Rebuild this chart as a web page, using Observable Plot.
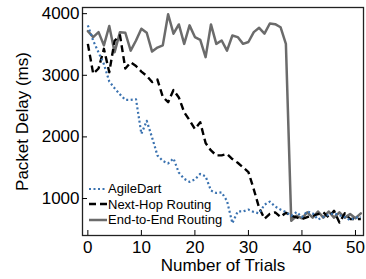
<!DOCTYPE html>
<html><head><meta charset="utf-8">
<script src="https://cdn.jsdelivr.net/npm/d3@7"></script>
<script src="https://cdn.jsdelivr.net/npm/@observablehq/plot@0.6"></script>
<style>
body{margin:0;background:#fff;font-family:"Liberation Sans",Arial,sans-serif;}
#wrap{position:relative;width:366px;height:279px;}
#legend{position:absolute;left:89px;top:181px;font-size:13px;color:#000;}
.row{display:flex;align-items:center;height:15.5px;white-space:nowrap;}
.row svg{margin-right:1px;display:block}
</style></head><body><div id="wrap"><div id="legend"></div></div>
<script>
const trials = d3.range(52);
const agileDart = [3810,3560,3370,3180,2900,2790,2690,2600,2600,2610,
  2050,2260,1990,1700,1610,1570,1650,1420,1320,1270,
  1310,1400,1360,1130,1090,1100,960,600,790,790,
  820,780,760,900,950,870,820,780,720,780,
  700,790,760,660,700,740,760,730,700,650,690,700];
const nextHop = [3510,3025,3110,3430,3050,3560,3650,3110,3210,3150,
  3060,2990,2890,2930,2650,2563,2760,2640,2400,2270,
  2130,2237,1900,1780,1700,1700,1723,1640,1580,1506,
  1430,1150,850,670,750,775,700,770,720,693,
  667,700,720,748,775,693,800,610,760,667,667,667];
const endToEnd = [3717,3620,3700,3485,3800,3375,3700,3690,3400,3565,
  3755,3690,3385,3450,3485,3990,3675,3825,3510,3810,
  3620,3575,3295,3825,3510,3565,3400,3645,3620,3510,
  3540,3700,3770,3675,3840,3830,3780,3510,640,720,
  680,775,690,790,690,790,690,775,690,750,680,760];
const seriesNames = ["AgileDart","Next-Hop Routing","End-to-End Routing"];
const seriesColors = ["#3a72b0","#000000","#6b6b6b"];
const seriesDash = ["2,2.5","7,4",null];
const xTicks = [0,10,20,30,40,50];
const yTicks = [1000,2000,3000,4000];

const rows = trials.map((t,i)=>({t, a:agileDart[i], n:nextHop[i], e:endToEnd[i]}));

const plot = Plot.plot({
  width:366, height:279,
  marginLeft:82, marginRight:3, marginTop:7, marginBottom:44,
  style:{fontFamily:"Liberation Sans, Arial, sans-serif", fontSize:"17px", color:"#000", background:"#fff"},
  x:{domain:[-1,51.5]},
  y:{domain:[400,4100]},
  marks:[
    Plot.lineY(rows,{x:"t",y:"e",stroke:seriesColors[2],strokeWidth:2.5}),
    Plot.lineY(rows,{x:"t",y:"n",stroke:seriesColors[1],strokeWidth:2.4,strokeDasharray:seriesDash[1],strokeLinecap:"butt"}),
    Plot.lineY(rows,{x:"t",y:"a",stroke:seriesColors[0],strokeWidth:2.2,strokeDasharray:seriesDash[0],strokeLinecap:"butt"}),
    Plot.frame({stroke:"#222",strokeWidth:1.3}),
    Plot.axisX({ticks:xTicks,tickSize:-5,tickPadding:10,tickFormat:d3.format("d"),label:"Number of Trials",labelAnchor:"center",labelArrow:"none",labelOffset:35}),
    Plot.axisY({ticks:yTicks,tickSize:-5,tickPadding:8,tickFormat:d3.format("d"),label:"Packet Delay (ms)",labelAnchor:"center",labelArrow:"none",labelOffset:67})
  ]
});
document.getElementById("wrap").prepend(plot);

const legend = document.getElementById("legend");
seriesNames.forEach((name,i)=>{
  const row = document.createElement("div");
  row.className = "row";
  const dash = seriesDash[i] ? `stroke-dasharray="${seriesDash[i]}"` : "";
  row.innerHTML = `<svg width="18" height="6"><line x1="0" y1="3" x2="18" y2="3" stroke="${seriesColors[i]}" stroke-width="${i===0?2.2:2.5}" ${dash}/></svg><span>${name}</span>`;
  legend.appendChild(row);
});
</script></body></html>
